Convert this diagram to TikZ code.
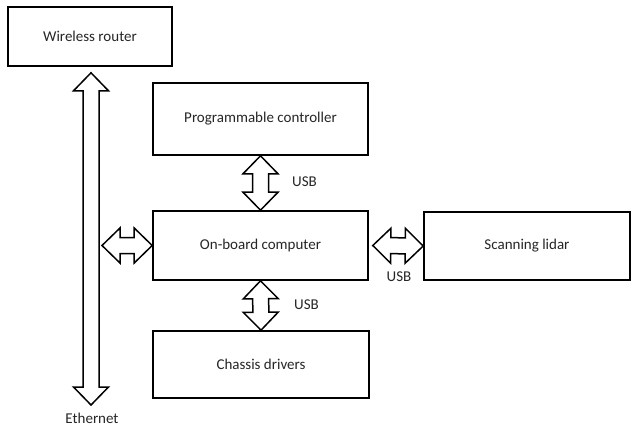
\documentclass[tikz,border=0pt]{standalone}
\usepackage{fontspec}
\setmainfont{Carlito}
\usepackage{xcolor}
\usepackage{tikz}
\usetikzlibrary{positioning,calc}

\tikzset{
  block/.style={draw, rectangle, line width=1.6pt, inner sep=0pt, font=\fontsize{15}{17}\selectfont, text=black!85},
  lbl/.style={font=\fontsize{15}{17}\selectfont, text=black!85, inner sep=0pt},
  blockarrow/.style={draw, line width=1.5pt, fill=white, line join=miter}
}
\newcommand{\headlen}{18pt}
\newcommand{\headw}{17.5pt}
\newcommand{\shaftw}{8pt}
% hollow two-headed arrow between two points
\newcommand{\dblarrow}[2]{%
  \draw[blockarrow] (#1)
    -- ($(#1)!\headlen!(#2)!\headw!90:(#2)$)
    -- ($(#1)!\headlen!(#2)!\shaftw!90:(#2)$)
    -- ($(#2)!\headlen!(#1)!\shaftw!-90:(#1)$)
    -- ($(#2)!\headlen!(#1)!\headw!-90:(#1)$)
    -- (#2)
    -- ($(#2)!\headlen!(#1)!\headw!90:(#1)$)
    -- ($(#2)!\headlen!(#1)!\shaftw!90:(#1)$)
    -- ($(#1)!\headlen!(#2)!\shaftw!-90:(#2)$)
    -- ($(#1)!\headlen!(#2)!\headw!-90:(#2)$)
    -- cycle;}

\begin{document}
\begin{tikzpicture}[x=1pt, y=-1pt]
    \useasboundingbox[fill=white] (0,0) rectangle (632,428);

    \node[block, minimum width=164pt, minimum height=59pt] (router) at (90,36.5) {Wireless router};
    \node[block, minimum width=215pt, minimum height=72pt] (prog) at (260.5,119) {Programmable controller};
    \node[block, minimum width=215pt, minimum height=69pt] (obc) at (260.5,245.5) {On-board computer};
    \node[block, minimum width=206pt, minimum height=68pt] (lidar) at (527,246) {Scanning lidar};
    \node[block, minimum width=216pt, minimum height=67pt] (chassis) at (261,364.5) {Chassis drivers};

    \node[lbl] (eth) at (92,418.5) {Ethernet};
    \node[lbl] (usbtop) at (304.5,182) {USB};
    \node[lbl] (usbbot) at (306.5,305) {USB};
    \node[lbl] (usblid) at (399,277) {USB};

    % ethernet bus
    \coordinate (ethtop) at ([xshift=1pt, yshift=-6pt]router.south);
    \coordinate (ethend) at (91,405);
    \coordinate (tap) at ([xshift=11pt]ethend |- obc.west);
    \dblarrow{ethtop}{ethend}
    \dblarrow{tap}{obc.west}

    % usb links
    \dblarrow{prog.south}{obc.north}
    \dblarrow{obc.south}{chassis.north}
    \coordinate (obcr) at ([xshift=4pt]obc.east);
    \dblarrow{obcr}{lidar.west}
\end{tikzpicture}
\end{document}
